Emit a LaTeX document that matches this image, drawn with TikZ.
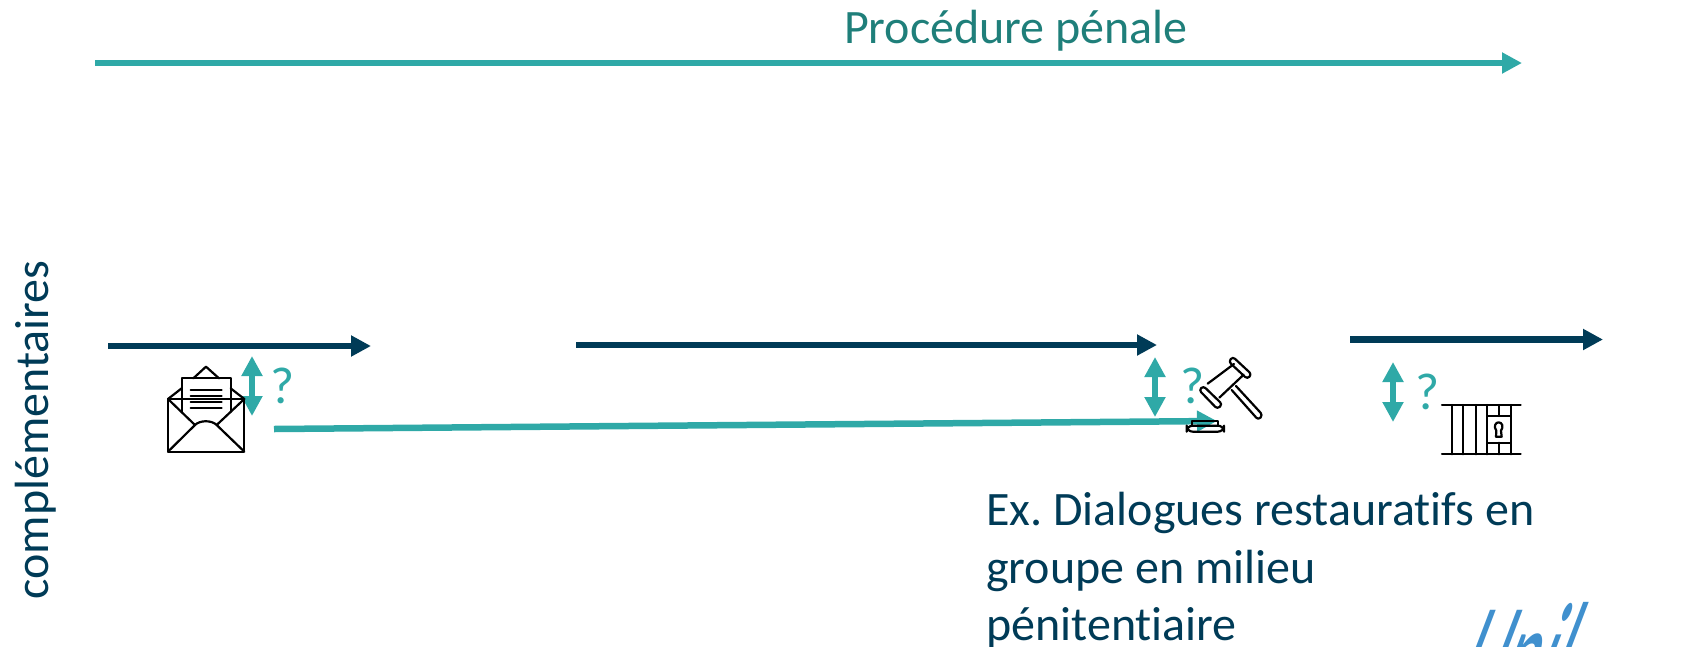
\documentclass[tikz,border=0pt]{standalone}
\usepackage{fontspec}
\setmainfont[Ligatures=NoCommon]{Carlito}
\newfontfamily\logofont[FakeSlant=0.38,FakeStretch=0.43]{Carlito}
\usetikzlibrary{arrows.meta}
\definecolor{tealc}{HTML}{2FA9A7}
\definecolor{tealt}{HTML}{1F7F7A}
\definecolor{navyc}{HTML}{003B57}
\definecolor{logoc}{HTML}{4090CE}
\tikzset{
  flow/.style={line width=6.5pt,-{Triangle[length=20pt,width=20pt]}},
  tealflow/.style={flow,draw=tealc},
  navyflow/.style={flow,draw=navyc},
  both/.style={line width=5.5pt,draw=tealc,{Triangle[length=20pt,width=20pt]}-{Triangle[length=20pt,width=20pt]},shorten <=0pt,shorten >=0pt},
  qmark/.style={text=tealc,font=\fontsize{52}{52}\selectfont,inner sep=0pt,anchor=base},
  body/.style={text=navyc,font=\fontsize{48}{57.5}\selectfont\frenchspacing,inner sep=0pt},
  icon/.style={draw=black,line width=2.2pt,line join=round,line cap=round},
}
\begin{document}
\begin{tikzpicture}[x=1pt,y=-1pt]
\useasboundingbox (0,0) rectangle (1694,646);
\clip (0,0) rectangle (1694,646);
\node[anchor=base,text=tealt,font=\fontsize{48}{48}\selectfont,inner sep=0pt] (title) at (1016,43) {Procédure pénale};
\coordinate (t1) at (95,63); \coordinate (t2) at (1522,63);
\draw[tealflow] (t1) -- (t2);
\coordinate (a1) at (108,346); \coordinate (a2) at (371,346);
\coordinate (b1) at (576,345); \coordinate (b2) at (1157,345);
\coordinate (c1) at (1350,339.5); \coordinate (c2) at (1603,339.5);
\draw[navyflow] (a1) -- (a2);
\draw[navyflow] (b1) -- (b2);
\draw[navyflow] (c1) -- (c2);
\coordinate (d1a) at (252,356); \coordinate (d1b) at (252,416);
\coordinate (d2a) at (1155,357); \coordinate (d2b) at (1155,417);
\coordinate (d3a) at (1393,362); \coordinate (d3b) at (1393,422);
\draw[both] (d1a) -- (d1b);
\draw[both] (d2a) -- (d2b);
\draw[both] (d3a) -- (d3b);
\node[qmark] (q1) at (283,403) {?};
\node[qmark] (q2) at (1193,403) {?};
\node[qmark] (q3) at (1428,409) {?};
\coordinate (l1) at (274,429); \coordinate (l2) at (1217,421);
\draw[tealflow] (l1) -- (l2);
\node[body,rotate=90,anchor=base] (side) at (48,430) {complémentaires};
\node[body,anchor=north west,align=left] (ex) at (986,492) {Ex. Dialogues restauratifs en\\groupe en milieu\\pénitentiaire};
\node[anchor=base west,inner sep=0pt,text=logoc,font=\logofont\fontsize{150}{150}\selectfont] (logo) at (1449,706) {Unil};
% envelope
\begin{scope}[shift={(150,350)},x=.3333pt,y=-.3333pt,icon]
\draw (54,147) rectangle (283,305);
\draw (54,147) -- (135,225) .. controls (150,210) and (185,210) .. (200,225) -- (283,305);
\draw (54,305) -- (135,225);
\draw (200,225) -- (283,147);
\draw (54,147) -- (95,115);
\draw (283,147) -- (242,115);
\draw (130,85) -- (168,50) -- (207,85);
\draw (95,185) -- (95,85) -- (242,85) -- (242,185);
\foreach \yy in {120,138,156,175} \draw (122,\yy) -- (215,\yy);
\end{scope}
% gavel
\begin{scope}[shift={(1160,340)},x=.3333pt,y=-.3333pt,icon]
\draw[rounded corners=3pt] (218,50) -- (275,103) -- (262,117) -- (206,65) -- cycle;
\draw[rounded corners=3pt] (130,138) -- (187,193) -- (172,207) -- (117,150) -- cycle;
\draw (222,72) -- (143,131);
\draw (251,104) -- (178,173);
\draw[rounded corners=3pt] (228,138) -- (308,225) -- (295,240) -- (215,150);
\draw (97,257) -- (97,243) -- (175,243) -- (175,257);
\draw[rounded corners=6pt] (80,257) rectangle (192,275);
\end{scope}
% jail
\begin{scope}[shift={(1420,390)},x=.3333pt,y=-.3333pt,icon]
\draw (66,45) -- (302,45);
\draw (66,193) -- (302,193);
\foreach \xx in {97,130,167,202,272} \draw (\xx,45) -- (\xx,193);
\draw (237,45) -- (237,78);
\draw (237,158) -- (237,193);
\draw (202,78) -- (272,78);
\draw (202,158) -- (272,158);
\draw (229,122) .. controls (220,110) and (226,97) .. (236,97) .. controls (246,97) and (252,110) .. (243,122) -- (245,140) -- (228,140) -- cycle;
\end{scope}
\end{tikzpicture}
\end{document}
